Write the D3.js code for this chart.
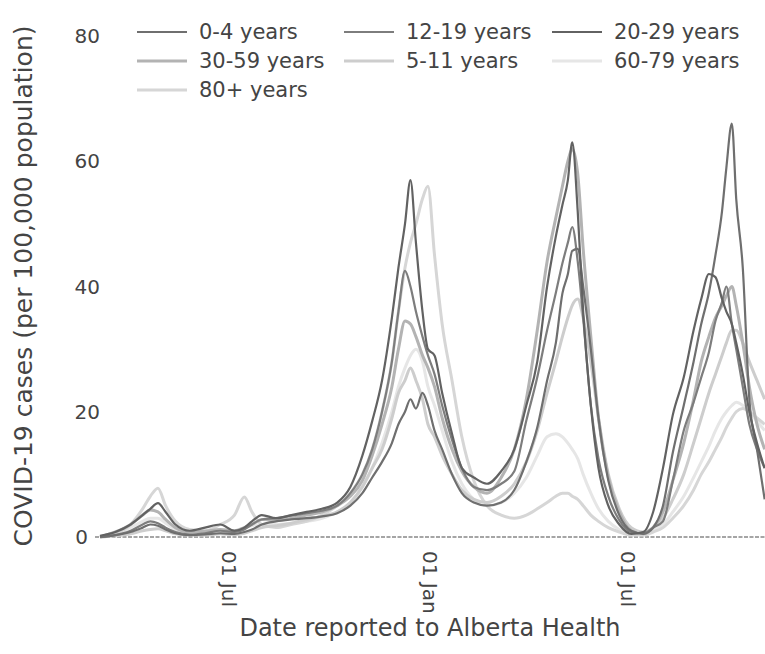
<!DOCTYPE html>
<html><head><meta charset="utf-8">
<script src="https://cdn.jsdelivr.net/npm/d3@7"></script>
<style>
html,body{margin:0;padding:0;background:#fff;}
svg{display:block;font-family:"DejaVu Sans",Verdana,sans-serif;}
</style></head>
<body><svg id="chart" width="765" height="654"></svg>
<script>
const dates = ["2020-03-05","2020-03-19","2020-04-02","2020-04-13","2020-04-20","2020-04-27","2020-05-04","2020-05-13","2020-05-26","2020-06-09",
"2020-06-23","2020-07-06","2020-07-15","2020-07-22","2020-07-31","2020-08-13","2020-08-27","2020-09-10","2020-09-24","2020-10-08",
"2020-10-20","2020-10-31","2020-11-09","2020-11-18","2020-11-27","2020-12-03","2020-12-09","2020-12-14","2020-12-19","2020-12-25",
"2020-12-30","2021-01-05","2021-01-12","2021-01-21","2021-01-30","2021-02-10","2021-02-22","2021-03-07","2021-03-19","2021-03-30",
"2021-04-09","2021-04-18","2021-04-26","2021-05-02","2021-05-07","2021-05-11","2021-05-16","2021-05-21","2021-05-28","2021-06-04",
"2021-06-13","2021-06-23","2021-07-04","2021-07-15","2021-07-24","2021-08-02","2021-08-11","2021-08-21","2021-08-30","2021-09-06",
"2021-09-13","2021-09-19","2021-09-25","2021-09-29","2021-10-04","2021-10-08","2021-10-14","2021-10-20","2021-10-27","2021-11-03"];

const age0_4 = [0,0.3,0.8,1.5,2,1.8,1.2,0.6,0.3,0.4, 0.6,0.5,0.8,1.2,2,2.5,2.8,3,3.3,3.8, 5,7,9.5,12,15,18,20,22,20.5,23,
 21,17,14,10,7,5.5,5,5.5,7.5,12, 17.5,25,31,38.9,42,45.7,46,40,30,19, 9,3.5,1,0.5,1.5,5,13.5,21,28,34, 39,45,52,59,66,54,43,22,14,6];
const age12_19 = [0,0.3,1,2,2.5,2.2,1.5,0.8,0.4,0.6, 1,0.8,1.2,2,2.8,3,3.4,3.8,4.2,5, 7,10,14,20,28,36,42.5,40,36,32,
 29,26,21,15.5,11,8,7.5,8.5,10.5,18.6, 25.5,33,39,43.7,47,49.5,44,35,21,12.5, 6.5,2.7,0.8,0.6,1.5,2.5,9,17,21.5,25.5, 29.5,34.5,37.5,40,34,30,24,18,14,11];
const age20_29 = [0.2,0.8,2,3.5,4.5,5.4,4,2,1,1.5, 2,1,1.5,2.5,3.5,3,3.5,4,4.5,5.5, 8,13,18.5,25,35,43,50,57,47,36,
 30,29,23,16.5,11,9.5,8.5,10.5,14,21, 28,40,48,53,57,63,52,36,21,11, 5,2,0.5,0.8,4,11,19.5,25.5,33,38, 42,41.5,38,36,34,31,26,20,15,11];
const age30_59 = [0,0.8,2,3.5,4.3,4,2.8,1.5,0.8,0.9, 1.2,1,1.5,2,2.8,2.7,3,3.5,4,5, 6.5,9,13,18,24,30,34.5,34,32,29,
 27,24,19,14,10.5,8,7,9.5,14,22, 33,44,51,56,60,62,58,46,32,19, 9.5,4,1,0.5,1.5,4,9,15,22,28, 32,35,37,38.5,40,37,31,24,18,14];
const age5_11 = [0,0.2,0.5,1,1.2,1.3,1,0.5,0.3,0.3, 0.5,0.4,0.6,1,1.5,1.8,2.2,2.8,3.3,4, 5.5,8,11,14,19,23,25,27,25,22,
 18,16,13,10,7.5,6,5.5,6.5,8.5,12, 17,23,28,32,35,37,38,35,28,19, 10,4.5,1.5,0.8,1.5,3,6,10,15,19, 23,26,29,31,33,33,31,28,25,22];
const age60_79 = [0,0.5,1.5,2.5,3,3,2.2,1.2,0.6,0.5, 0.7,0.8,1.5,1.8,2,2,2.2,2.5,3,4, 5.5,8,11,15,20,24,27,29,30,28,
 24,21,17,12,8.5,6,5,5.5,7,9.5, 13,16,16.5,16,15,14,12.5,10,7,4.5, 2.5,1.2,0.5,0.5,1,2,4,6.5,9.5,12, 14.5,17,19,20,21,21.5,21,20,18.5,17];
const age80p = [0,0.5,2,4.5,6.5,7.8,5,2.5,1.2,1, 2,3.5,6.4,4,2,1.5,2,2.5,3.5,5, 7,10,14,20,28,36,43,47,50,54,
 56,45,34,25,16,9,5,3.5,3,3.5, 4.5,5.5,6.5,7,7,6.5,6,5,3.5,2.5, 1.5,0.8,0.3,0.3,0.8,1.5,3,5,7.5,10, 12,14,16,17.5,19,20,20.5,20,19,18];

const seriesNames = ["0-4 years","12-19 years","20-29 years","30-59 years","5-11 years","60-79 years","80+ years"];
const seriesValues = [age0_4, age12_19, age20_29, age30_59, age5_11, age60_79, age80p];
const seriesColors = ["#6f6f6f","#7d7d7d","#626262","#b3b3b3","#cdcdcd","#e6e6e6","#d6d6d6"];
const drawOrder = [5,6,4,3,1,0,2];
const yTicks = [0,20,40,60,80];
const xTickDates = ["2020-07-01","2021-01-01","2021-07-01"];
const xTitle = "Date reported to Alberta Health";
const yTitle = "COVID-19 cases (per 100,000 population)";

const parse = d3.utcParse("%Y-%m-%d");
const svg = d3.select("#chart");
const x = d3.scaleUtc().domain([parse("2020-07-01"), parse("2021-07-01")]).range([229, 628]);
const y = d3.scaleLinear().domain([0, 80]).range([537, 36]);
const plotLeft = 95, plotRight = 765;

svg.append("defs").append("clipPath").attr("id","clip")
  .append("rect").attr("x", plotLeft).attr("y", 0).attr("width", plotRight - plotLeft).attr("height", 560);

svg.append("line").attr("x1", plotLeft).attr("x2", plotRight).attr("y1", y(0)).attr("y2", y(0))
  .attr("stroke", "#888").attr("stroke-width", 1.6).attr("stroke-dasharray", "4,1.5");

const line = d3.line().x((d,i) => x(parse(dates[i]))).y(d => y(d)).curve(d3.curveMonotoneX);
const g = svg.append("g").attr("clip-path","url(#clip)");
drawOrder.forEach(k => {
  g.append("path").datum(seriesValues[k]).attr("d", line)
   .attr("fill","none").attr("stroke", seriesColors[k])
   .attr("stroke-width", k >= 3 ? 3 : 2.2).attr("stroke-linejoin","round");
});

svg.append("g").selectAll("text").data(yTicks).join("text")
  .attr("x", d => d === 0 ? 88 : 100).attr("y", d => y(d)).attr("dy","0.35em")
  .attr("text-anchor","end").attr("font-size", 20).attr("fill","#444").text(d => d);

const fmt = d3.utcFormat("%d %b");
svg.append("g").selectAll("text").data(xTickDates).join("text")
  .attr("transform", d => `translate(${x(parse(d))},551) rotate(90)`)
  .attr("dy","0.35em").attr("text-anchor","start").attr("font-size", 20).attr("fill","#444")
  .text(d => fmt(parse(d)));

svg.append("text").attr("x", 430).attr("y", 636).attr("text-anchor","middle")
  .attr("font-size", 24).attr("fill","#444").text(xTitle);
svg.append("text").attr("transform","translate(23,286) rotate(-90)").attr("dy","0.35em")
  .attr("text-anchor","middle").attr("font-size", 25).attr("fill","#444").text(yTitle);

const legX = [137, 344, 552];
const legY = [32, 61, 90];
const leg = svg.append("g");
seriesNames.forEach((name, i) => {
  const cx = legX[i % 3], cy = legY[Math.floor(i / 3)];
  leg.append("line").attr("x1", cx).attr("x2", cx + 50).attr("y1", cy).attr("y2", cy)
    .attr("stroke", seriesColors[i]).attr("stroke-width", i >= 3 ? 3 : 2.2);
  leg.append("text").attr("x", cx + 62).attr("y", cy).attr("dy","0.35em")
    .attr("font-size", 21).attr("fill","#444").text(name);
});
</script></body></html>
